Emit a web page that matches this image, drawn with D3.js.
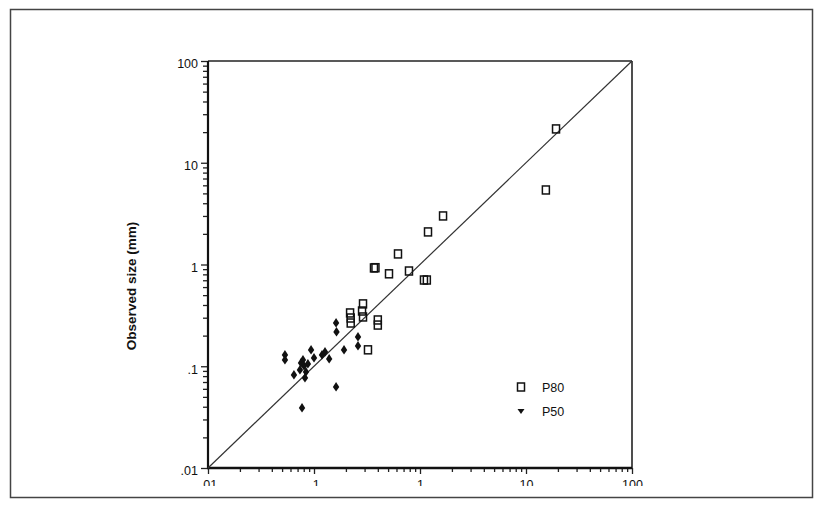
<!DOCTYPE html>
<html>
<head>
<meta charset="utf-8">
<script src="https://cdn.jsdelivr.net/npm/d3@7"></script>
<style>
  body { margin: 0; background: #fff; }
  svg { display: block; font-family: "Liberation Sans", Arial, sans-serif; }
</style>
</head>
<body>
<svg id="chart" width="822" height="510"></svg>
<script>
/* ---------- data ---------- */

// P80 squares (predicted, observed) in mm
const p80X = [19.2, 15.4, 1.65, 1.19, 0.62, 0.368, 0.38, 0.51, 0.787, 1.09, 1.16,
              0.29, 0.284, 0.29, 0.219, 0.222, 0.222, 0.40, 0.40, 0.323];
const p80Y = [21.5, 5.4, 3.0, 2.09, 1.27, 0.925, 0.93, 0.81, 0.863, 0.704, 0.704,
              0.41, 0.349, 0.305, 0.334, 0.298, 0.266, 0.285, 0.254, 0.145];

// P50 diamonds
const p50X = [0.0532, 0.0532, 0.0771, 0.1615, 0.1615, 0.163, 0.192, 0.26, 0.26, 0.127,
              0.119, 0.139, 0.0938, 0.1, 0.0647, 0.0787, 0.0805, 0.084, 0.0737, 0.0822,
              0.0754, 0.0876];
const p50Y = [0.129, 0.115, 0.0389, 0.0625, 0.266, 0.217, 0.1445, 0.194, 0.158, 0.138,
              0.129, 0.118, 0.1445, 0.1205, 0.082, 0.115, 0.1005, 0.0878, 0.0919, 0.0767,
              0.1076, 0.105];

const majorTicks = [0.01, 0.1, 1, 10, 100];
const majorLabels = [".01", ".1", "1", "10", "100"];
const seriesNames = ["P80", "P50"];

/* ---------- layout ---------- */

const svg = d3.select("#chart");
const plot = { left: 208, right: 632, top: 61, bottom: 468 };

const x = d3.scaleLog().domain([0.01, 100]).range([plot.left, plot.right]);
const y = d3.scaleLog().domain([0.01, 100]).range([plot.bottom, plot.top]);

// minor ticks 2..9 per decade
const minorTicks = [];
majorTicks.slice(0, -1).forEach(d => {
    for (let k = 2; k <= 9; k++) minorTicks.push(d * k);
});
const labelOf = v => majorLabels[majorTicks.indexOf(v)];

// outer frame of the figure
svg.append("rect")
    .attr("x", 10.5).attr("y", 9.5)
    .attr("width", 802).attr("height", 488)
    .attr("fill", "none")
    .attr("stroke", "#444")
    .attr("stroke-width", 1.5);

/* ---------- axes ---------- */

// the scan cuts the x labels in half: clip them (group coordinates)
const clip = svg.append("clipPath").attr("id", "xlabClip");
clip.append("rect").attr("x", 150).attr("y", -20).attr("width", 540).attr("height", 38);

function styleAxis(g) {
    g.select(".domain").remove();
    g.selectAll(".tick line").attr("stroke", "#222").attr("stroke-width", 1.3);
    g.selectAll(".tick text")
        .attr("fill", "#111")
        .style("font-size", "12.5px");
}

svg.append("g")
    .attr("transform", `translate(${plot.left},0)`)
    .call(d3.axisLeft(y).tickValues(minorTicks).tickSize(5).tickFormat(""))
    .call(styleAxis);

svg.append("g")
    .attr("transform", `translate(${plot.left},0)`)
    .call(d3.axisLeft(y).tickValues(majorTicks).tickSize(7).tickPadding(3).tickFormat(labelOf))
    .call(styleAxis)
    .selectAll(".tick text").attr("dy", "0.55em");

svg.append("g")
    .attr("transform", `translate(0,${plot.bottom})`)
    .call(d3.axisBottom(x).tickValues(minorTicks).tickSize(4).tickFormat(""))
    .call(styleAxis);

svg.append("g")
    .attr("transform", `translate(0,${plot.bottom})`)
    .attr("clip-path", "url(#xlabClip)")
    .call(d3.axisBottom(x).tickValues(majorTicks).tickSize(6).tickPadding(6).tickFormat(labelOf))
    .call(styleAxis);

// frame of the plot area
svg.append("line")
    .attr("x1", plot.left).attr("x2", plot.right)
    .attr("y1", plot.top).attr("y2", plot.top)
    .attr("stroke", "#222").attr("stroke-width", 1.6);
svg.append("line")
    .attr("x1", plot.right).attr("x2", plot.right)
    .attr("y1", plot.top).attr("y2", plot.bottom)
    .attr("stroke", "#222").attr("stroke-width", 1.6);
svg.append("line")
    .attr("x1", plot.left).attr("x2", plot.left)
    .attr("y1", plot.top).attr("y2", plot.bottom)
    .attr("stroke", "#111").attr("stroke-width", 2.2);
svg.append("line")
    .attr("x1", plot.left - 1).attr("x2", plot.right)
    .attr("y1", plot.bottom).attr("y2", plot.bottom)
    .attr("stroke", "#111").attr("stroke-width", 2.6);

// 1:1 line
svg.append("line")
    .attr("x1", x(0.01)).attr("y1", y(0.01))
    .attr("x2", x(100)).attr("y2", y(100))
    .attr("stroke", "#333")
    .attr("stroke-width", 1.2);

// y title
svg.append("text")
    .attr("transform", "translate(136,286) rotate(-90)")
    .attr("text-anchor", "middle")
    .style("font-size", "13.5px")
    .style("font-weight", "bold")
    .attr("fill", "#111")
    .text("Observed size (mm)");

/* ---------- marks ---------- */

const diamond = "M0,-5 L3.2,0 L0,4.5 L-3.2,0Z";

svg.append("g").selectAll("rect")
    .data(d3.range(p80X.length))
    .join("rect")
    .attr("x", i => x(p80X[i]) - 3.5)
    .attr("y", i => y(p80Y[i]) - 4)
    .attr("width", 7)
    .attr("height", 8)
    .attr("fill", "none")
    .attr("stroke", "#111")
    .attr("stroke-width", 1.5);

svg.append("g").selectAll("path")
    .data(d3.range(p50X.length))
    .join("path")
    .attr("transform", i => `translate(${x(p50X[i])},${y(p50Y[i])})`)
    .attr("d", diamond)
    .attr("fill", "#111");

/* ---------- legend ---------- */

const legend = svg.append("g").attr("transform", "translate(521,387)");
legend.append("rect")
    .attr("x", -3.5).attr("y", -4).attr("width", 7).attr("height", 8)
    .attr("fill", "none").attr("stroke", "#111").attr("stroke-width", 1.5);
legend.append("path")
    .attr("transform", "translate(0,24)")
    .attr("d", "M-3.5,-2 L3.5,-2 L0,3Z")
    .attr("fill", "#111");
legend.selectAll("text")
    .data(seriesNames)
    .join("text")
    .attr("x", 21)
    .attr("y", (d, i) => i * 24)
    .attr("dy", "0.36em")
    .style("font-size", "12.5px")
    .attr("fill", "#111")
    .text(d => d);
</script>
</body>
</html>
